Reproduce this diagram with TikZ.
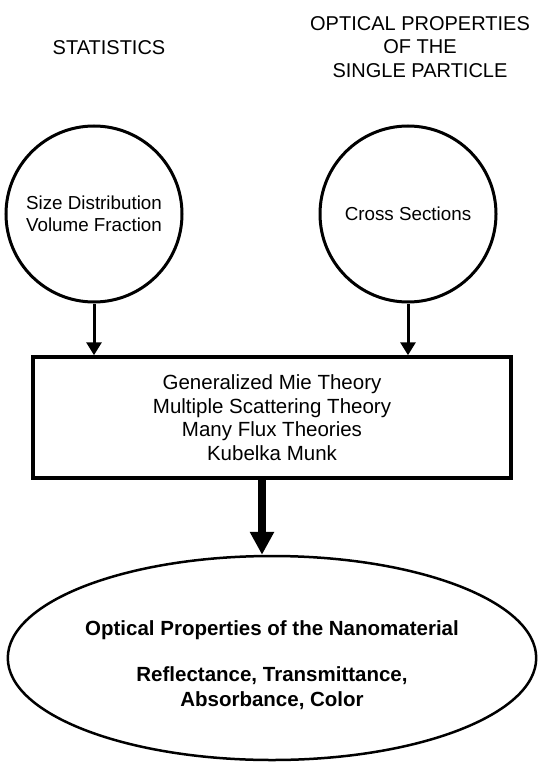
\documentclass[tikz,border=0pt]{standalone}
\usepackage{fontspec}
\setmainfont{Liberation Sans}
\usetikzlibrary{arrows.meta,shapes.geometric}

\tikzset{
  headtext/.style={font=\fontsize{20}{23.5}\selectfont, align=center},
  inputcircle/.style={draw, circle, line width=3pt, minimum size=176pt, inner sep=0pt,
    font=\fontsize{18.8}{22}\selectfont, align=center},
  smallarrow/.style={line width=3pt, -{Triangle[length=13pt,width=15pt]}},
  bigarrow/.style={line width=8pt, -{Triangle[length=23pt,width=23pt]}}
}

\begin{document}
\begin{tikzpicture}[x=1pt, y=-1pt]
        \useasboundingbox (0, 0) rectangle (538, 762);

        % Headings
        \node[headtext] (stathead) at (109, 48) {STATISTICS};
        \node[headtext] (opthead) at (420, 47) {OPTICAL PROPERTIES\\OF THE\\SINGLE PARTICLE};

        % Inputs
        \node[inputcircle] (stat) at (94, 214) {Size Distribution\\Volume Fraction};
        \node[inputcircle] (cross) at (408, 214) {Cross Sections};

        % Theories
        \node[draw, line width=3.5pt, minimum width=478pt, minimum height=121pt, inner sep=0pt,
              font=\fontsize{20.5}{23.5}\selectfont, align=center] (theory) at (272, 417.5)
              {Generalized Mie Theory\\Multiple Scattering Theory\\Many Flux Theories\\Kubelka Munk};

        % Result
        \node[draw, ellipse, line width=2.5pt, minimum width=500pt, minimum height=204pt, inner sep=0pt,
              font=\bfseries\fontsize{20.5}{25}\selectfont, align=center] (result) at (272, 658)
              {\rule{0pt}{29pt}Optical Properties of the Nanomaterial\\[21pt]Reflectance, Transmittance,\\Absorbance, Color};

        \draw[smallarrow] (stat.south) -- (stat.south |- theory.north);
        \draw[smallarrow] (cross.south) -- (cross.south |- theory.north);
        \draw[bigarrow] ([xshift=-10pt]theory.south) -- ([xshift=-10pt]result.north);
    \end{tikzpicture}
\end{document}
